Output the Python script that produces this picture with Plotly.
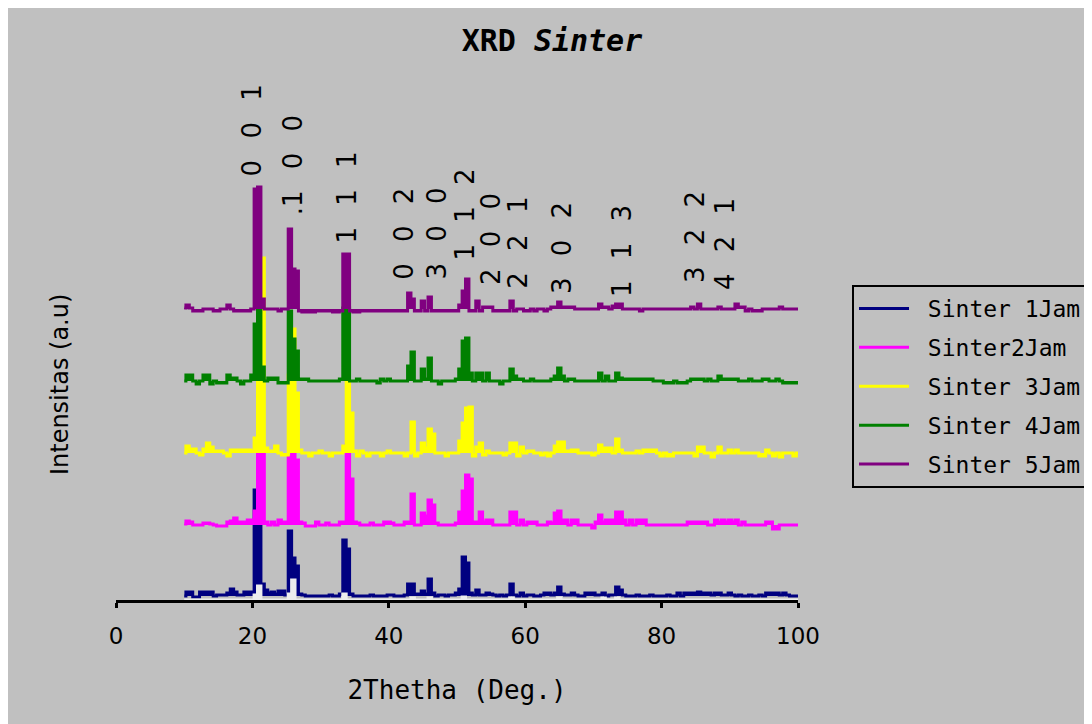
import plotly.graph_objects as go

# ---------------- data ----------------
TWO_THETA_START = 10.0
TWO_THETA_STEP = 0.5
N_POINTS = 181
two_theta = [TWO_THETA_START + TWO_THETA_STEP * i for i in range(N_POINTS)]

series_names = ["Sinter 1Jam", "Sinter2Jam", "Sinter 3Jam", "Sinter 4Jam", "Sinter 5Jam"]
# vertical stacking offsets of each pattern (a.u.)
series_offsets = [4, 75, 147, 219, 291]

# intensities above each pattern's own baseline (a.u.), 10 values per 5 degrees
sinter_1jam = [
    0, 4, 4, -1, -1, 4, 4, 4, 4, 0,          # 10.0 - 14.5
    1, 1, 1, 3, 7, 4, 1, 1, 4, 4,            # 15.0 - 19.5
    4, 106, 84, 12, 6, 3, 4, 2, 5, 5,        # 20.0 - 24.5
    1, 65, 38, 30, 2, 1, 0, 0, 0, 0,         # 25.0 - 29.5
    0, 0, 0, 1, 0, 0, 2, 56, 47, 2,          # 30.0 - 34.5
    0, 0, 0, 0, 0, 1, 0, 0, 0, 0,            # 35.0 - 39.5
    1, 1, 0, 0, 0, 1, 12, 12, 2, 2,          # 40.0 - 44.5
    5, 2, 17, 3, 0, 1, 1, 0, 1, 1,           # 45.0 - 49.5
    3, 7, 39, 33, 3, 1, 6, 1, 1, 3,          # 50.0 - 54.5
    2, 1, 0, 1, 0, 1, 12, 1, 0, 3,           # 55.0 - 59.5
    0, 1, 1, 0, 0, 1, 3, 3, 1, 3,            # 60.0 - 64.5
    9, 2, 1, 1, 3, 1, 0, 0, 3, 3,            # 65.0 - 69.5
    3, 1, 1, 3, 0, 1, 1, 9, 6, 1,            # 70.0 - 74.5
    0, 0, 0, 1, 0, 0, 0, 1, 0, 0,            # 75.0 - 79.5
    0, 0, 1, 0, 0, 3, 0, 3, 3, 3,            # 80.0 - 84.5
    3, 4, 3, 3, 3, 1, 3, 3, 1, 1,            # 85.0 - 89.5
    3, 1, 0, 1, 0, 0, 1, 0, 0, 1,            # 90.0 - 94.5
    0, 3, 3, 3, 3, 1, 3, 1, 0, 0,            # 95.0 - 99.5
    0,                                       # 100.0
]
sinter_2jam = [
    1, 4, 3, 0, 0, 0, 2, 2, 1, 0,
    -1, -1, -1, 3, 4, 7, 3, 3, 3, 5,
    5, 14, 87, 73, 3, 0, 3, 0, 5, 3,
    3, 68, 90, 65, 3, 2, -1, -1, -1, 3,
    0, 0, 2, 0, 0, 0, 3, 3, 80, 46,
    3, 2, 0, 0, 0, 2, 0, 0, 0, 3,
    3, 2, 0, 0, 0, 3, 3, 31, 0, 0,
    12, 9, 25, 20, 2, 0, 0, 0, 0, 0,
    2, 13, 34, 50, 46, 3, 3, 13, 3, 5,
    5, 0, 0, 0, 0, 0, 13, 13, 0, 5,
    0, 3, 3, 3, 0, 0, 0, 3, 2, 12,
    14, 5, 5, 0, 5, 5, 0, 0, 0, 0,
    -3, 3, 10, 3, 5, 5, 5, 13, 13, 5,
    0, 5, 0, 5, 5, 5, 0, 0, 0, 0,
    0, 0, 0, 0, 0, 0, 0, 0, 3, 3,
    3, 3, 3, 3, 0, 0, 5, 3, 5, 3,
    5, 3, 5, 0, 3, 0, 0, 0, 0, 0,
    0, 3, 3, -4, -4, 0, 0, 0, 0, 0,
    0,
]
sinter_3jam = [
    0, 7, 4, 4, 0, -2, 4, 10, 6, 2,
    2, 2, 0, -3, 3, 3, 3, 3, 3, 3,
    2, 15, 87, 195, 5, 2, 2, 7, 0, -2,
    -2, 78, 124, 60, 3, 0, 0, -3, 0, 0,
    2, 0, 0, -3, 0, 0, 0, 7, 72, 40,
    2, -3, 2, 0, -3, 0, 0, 0, -3, 0,
    2, 0, 0, 0, 0, -3, 0, 31, -3, 0,
    10, 5, 24, 19, 0, 0, 0, -3, 0, 0,
    0, 12, 30, 45, 46, -3, 6, 10, -2, 2,
    0, 0, 0, 0, -2, 0, 10, 10, -3, 6,
    0, 2, 2, 0, 0, -2, 0, -3, 0, 7,
    11, 11, 2, 2, 3, 3, 0, 0, 0, 0,
    -2, 0, 8, 5, 5, 5, 0, 14, 3, 0,
    0, 0, 0, 2, 0, 3, 3, 3, 3, 0,
    -3, 0, -3, -3, 0, 0, 0, 0, 0, 0,
    -3, 6, 6, 0, 0, -4, 0, 6, 0, 0,
    3, 0, 3, 0, 0, 0, 0, 0, 0, -3,
    -3, 3, 0, -3, 0, -4, 0, 0, 0, -3,
    0,
]
sinter_4jam = [
    0, 6, 6, 0, -3, 0, 6, 6, -3, 0,
    -2, -2, -2, 6, 3, 3, 0, -3, 0, 0,
    6, 57, 76, 14, 0, 3, 3, 3, -2, -2,
    -2, 70, 42, 30, 2, 2, 2, 0, 0, 0,
    0, 0, 0, 0, 0, 0, 2, 73, 73, 0,
    0, 2, 0, 0, 0, 0, 0, -2, 2, 0,
    2, 0, 0, 0, 0, 0, 15, 29, 0, 0,
    12, 2, 23, 0, 0, -3, 0, 0, 0, 0,
    2, 12, 40, 43, 8, 0, 8, 8, 0, 8,
    0, 0, 0, -3, 0, 0, 12, 5, 2, 2,
    0, 0, 2, 0, 0, 0, 0, 0, 2, 5,
    13, 5, 0, 2, 2, 0, 0, 0, 0, 0,
    0, 0, 8, 0, 5, 0, 0, 8, 3, 2,
    2, 2, 2, 2, 2, 2, 2, 2, 0, 0,
    0, -2, -2, -2, 0, -2, -2, -2, 0, 2,
    2, 2, 2, 0, 2, 0, 0, 5, 2, 2,
    2, 2, 2, 0, 0, 0, 2, 0, 0, 0,
    2, 2, 0, 0, 2, 0, -2, -2, -2, -2,
    -2,
]
sinter_5jam = [
    1, 4, 1, -2, -2, -2, 0, 0, 0, -2,
    -2, 0, 0, 4, 0, -2, -2, -2, -2, -2,
    0, 120, 122, 10, 0, 0, 0, 0, -2, 0,
    0, 80, 40, 38, -2, -3, -3, -3, -3, -2,
    -2, -2, -2, -2, -3, -3, -2, 55, 55, -2,
    -3, -3, -2, -2, -2, -2, -2, -2, -2, -2,
    -2, -2, -2, -2, -2, -2, 16, 10, -2, -2,
    8, -2, 12, -2, -2, -2, -2, -2, -2, -2,
    -2, 4, 18, 30, -2, -2, 8, -2, 2, 2,
    2, -2, -2, -2, -2, -2, 8, -2, 0, 0,
    -2, -2, 0, -2, 0, 0, -2, 0, 2, 2,
    7, 2, 2, 2, 2, 0, 0, 0, 0, 0,
    0, 0, 5, 2, 2, 0, 3, 5, 5, 0,
    0, 0, 0, 0, -2, 0, 0, 0, 0, 0,
    0, 0, 0, 0, 0, 0, 0, 0, 0, 2,
    0, 5, 0, 0, 0, 0, 0, 2, 0, 0,
    0, 0, 5, 2, 2, -2, 0, -2, -2, -2,
    0, 0, 0, 0, 0, 2, 0, 0, 0, 0,
    0,
]
# faint light trace visible just above the axis (not in legend)
faint_trace = [
    0, 0, 0, 0, 0, 0, 0, 0, 0, 0,
    0, 0, 0, 0, 0, 0, 0, 0, 0, 0,
    0, 5, 14, 0, 0, 0, 0, 0, 0, 0,
    0, 6, 20, 0, 0, 0, 0, 0, 0, 0,
    0, 0, 0, 0, 0, 0, 0, 6, 0, 0,
    0, 0, 0, 0, 0, 0, 0, 0, 0, 0,
    0, 0, 0, 0, 0, 0, 0, 2, 0, 0,
    0, 0, 2, 0, 0, 0, 0, 0, 0, 0,
    0, 0, 3, 0, 0, 0, 0, 0, 0, 0,
    0, 0, 0, 0, 0, 0, 2, 0, 0, 0,
    0, 0, 0, 0, 0, 0, 0, 0, 0, 0,
    2, 0, 0, 0, 0, 0, 0, 0, 0, 0,
    0, 0, 0, 2, 0, 0, 0, 2, 0, 0,
    0, 0, 0, 0, 0, 0, 0, 0, 0, 0,
    0, 0, 0, 0, 0, 0, 0, 0, 0, 0,
    0, 0, 0, 0, 0, 0, 0, 0, 0, 0,
    0, 0, 0, 0, 0, 0, 0, 0, 0, 0,
    0, 0, 0, 0, 0, 0, 0, 0, 0, 0,
    0,
]
series_values = [sinter_1jam, sinter_2jam, sinter_3jam, sinter_4jam, sinter_5jam]
for s in series_values + [faint_trace]:
    assert len(s) == N_POINTS, len(s)

# Miller-index labels: text, 2theta position, label height (a.u.)
miller_text = ["0 0 1", ".1 0 0", "1 1 1", "0 0 2", "3 0 0", "1 1 2",
               "2 0 0", "2 2 1", "3 0 2", "1 1 3", "3 2 2", "4 2 1"]
miller_2theta = [20.0, 26.0, 33.8, 42.2, 47.0, 51.1, 55.0, 58.9, 65.4, 74.2, 84.9, 89.3]
miller_height = [470, 435, 402, 366, 366, 385, 361, 357, 352, 349, 363, 356]

x_ticks = [0, 20, 40, 60, 80, 100]

# ---------------- style ----------------
colors = ["#000080", "#FF00FF", "#FFFF00", "#008000", "#800080"]
FAINT = "#EDEDED"
BG = "#C0C0C0"
FONT = "DejaVu Sans"
MONO = "DejaVu Sans Mono"
LW = 3

fig = go.Figure()


def add_series(name, vals, offset, color, legend):
    ys = [offset + v for v in vals]
    # invisible baseline of this pattern, used as the fill reference
    fig.add_trace(go.Scatter(x=two_theta, y=[offset] * len(vals), mode="lines",
                             line=dict(width=0, color=color), showlegend=False,
                             legendgroup=name, hoverinfo="skip"))
    # solid area between baseline and pattern (the dense-point look)
    fig.add_trace(go.Scatter(x=two_theta, y=ys, mode="lines", fill="tonexty",
                             fillcolor=color, line=dict(width=0, color=color, shape="hvh"),
                             showlegend=False, legendgroup=name, hoverinfo="skip"))
    # the pattern line itself
    fig.add_trace(go.Scatter(x=two_theta, y=ys, mode="lines",
                             name="\u00a0" + name if legend else name,
                             line=dict(color=color, width=LW, shape="hvh"),
                             showlegend=legend, legendgroup=name,
                             hoverinfo="x+y+name"))


add_series(series_names[0], series_values[0], series_offsets[0], colors[0], True)
add_series("faint", faint_trace, 0, FAINT, False)
for i in range(1, 5):
    add_series(series_names[i], series_values[i], series_offsets[i], colors[i], True)

SEP = "\u00a0\u2002"
annotations = []
for txt, xv, yv in zip(miller_text, miller_2theta, miller_height):
    annotations.append(dict(
        x=xv, y=yv, xref="x", yref="y", text=txt.replace(" ", SEP),
        textangle=-90, showarrow=False, xanchor="center", yanchor="middle",
        font=dict(family=FONT, size=26, color="black"),
    ))
annotations.append(dict(
    x=-0.082, y=0.4135, xref="paper", yref="paper", text="Intensitas (a.u)",
    textangle=-90, showarrow=False, xanchor="center", yanchor="middle",
    font=dict(family=FONT, size=24, color="black"),
))

fig.update_layout(
    width=1084, height=716,
    margin=dict(l=108, r=294, t=72, b=124, autoexpand=False),
    paper_bgcolor=BG,
    plot_bgcolor=BG,
    title=dict(text="<b>XRD <i>Sinter</i></b>", x=0.5018, xref="container",
               y=0.954, yref="container", xanchor="center", yanchor="middle",
               font=dict(family=MONO, size=30, color="black")),
    xaxis=dict(range=[0, 100], tickvals=x_ticks, ticktext=[str(t) for t in x_ticks],
               showline=True, linecolor="black", linewidth=3,
               ticks="outside", ticklen=5, tickwidth=3, tickcolor="black",
               showgrid=False, zeroline=False, ticklabelstandoff=8,
               tickfont=dict(family=FONT, size=23, color="black"),
               title=dict(text="2Thetha (Deg.)", standoff=34,
                          font=dict(family=MONO, size=26, color="black"))),
    yaxis=dict(range=[0, 520], visible=False),
    legend=dict(x=1.0792, y=0.6058, xanchor="left", yanchor="top",
                traceorder="grouped",
                bgcolor=BG, bordercolor="black", borderwidth=2,
                font=dict(family=MONO, size=23, color="black"),
                tracegroupgap=6, itemwidth=50),
    annotations=annotations,
)

fig.write_html("out.html")
